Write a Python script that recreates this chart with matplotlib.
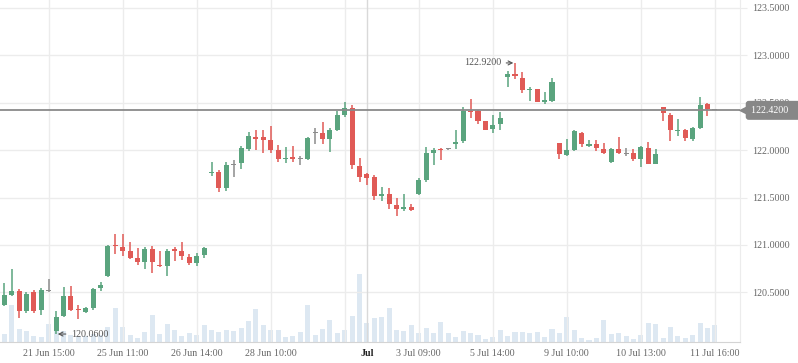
#!/usr/bin/env python3
"""
Candlestick chart with volume bars, 21 Jun - 11 Jul.
"""

import numpy as np
import matplotlib
matplotlib.use("Agg")
import matplotlib.pyplot as plt
import matplotlib.transforms as mtransforms

opens = [120.37, 120.47, 120.51, 120.30, 120.50, 120.31, 120.51, 120.09, 120.25, 120.46,
         120.32, 120.29, 120.33, 120.55, 120.67, 121.00, 120.98, 120.94, 120.86, 120.82,
         120.96, 120.79, 120.78, 120.95, 120.94, 120.87, 120.81, 120.89, 121.76, 121.77,
         121.60, 121.84, 121.86, 122.01, 122.14, 122.14, 122.11, 122.00, 121.91, 121.93,
         121.91, 121.91, 122.18, 122.18, 122.12, 122.21, 122.37, 122.44, 121.83, 121.75,
         121.72, 121.52, 121.54, 121.42, 121.38, 121.40, 121.54, 121.68, 121.97, 122.01,
         122.01, 122.07, 122.10, 122.41, 122.41, 122.31, 122.22, 122.28, 122.77, 122.80,
         122.76, 122.63, 122.65, 122.51, 122.52, 122.08, 121.95, 122.00, 122.18, 122.04,
         122.07, 122.01, 121.88, 122.01, 121.96, 121.97, 121.91, 122.02, 121.85, 122.46,
         122.37, 122.20, 122.21, 122.12, 122.23, 122.49, 122.42]
highs = [120.60, 120.75, 120.54, 120.50, 120.52, 120.55, 120.64, 120.30, 120.56, 120.57,
         120.37, 120.34, 120.55, 120.61, 121.00, 121.12, 121.12, 121.03, 120.97, 120.98,
         120.99, 120.94, 120.96, 120.98, 121.03, 120.90, 120.92, 120.98, 121.88, 121.79,
         121.88, 121.90, 122.04, 122.19, 122.21, 122.21, 122.26, 122.05, 122.03, 122.04,
         121.94, 122.14, 122.23, 122.30, 122.23, 122.41, 122.51, 122.48, 121.92, 121.76,
         121.74, 121.61, 121.60, 121.50, 121.54, 121.43, 121.71, 122.03, 122.02, 122.02,
         122.01, 122.21, 122.46, 122.54, 122.42, 122.31, 122.37, 122.40, 122.83, 122.92,
         122.82, 122.67, 122.65, 122.61, 122.76, 122.08, 122.12, 122.21, 122.19, 122.11,
         122.11, 122.08, 122.02, 122.14, 122.02, 122.01, 122.04, 122.09, 122.01, 122.46,
         122.39, 122.33, 122.22, 122.24, 122.56, 122.50, 122.42]
lows = [120.36, 120.46, 120.23, 120.28, 120.28, 120.26, 120.50, 120.06, 120.24, 120.30,
        120.22, 120.28, 120.31, 120.51, 120.66, 120.90, 120.88, 120.85, 120.79, 120.75,
        120.70, 120.77, 120.67, 120.83, 120.84, 120.79, 120.78, 120.86, 121.73, 121.56,
        121.57, 121.72, 121.80, 121.99, 122.00, 121.97, 121.97, 121.87, 121.86, 121.87,
        121.84, 121.90, 122.07, 122.07, 121.98, 122.20, 122.35, 121.80, 121.66, 121.63,
        121.47, 121.46, 121.38, 121.30, 121.36, 121.36, 121.53, 121.66, 121.84, 121.90,
        122.00, 122.01, 122.08, 122.34, 122.28, 122.21, 122.18, 122.21, 122.67, 122.75,
        122.60, 122.52, 122.51, 122.49, 122.51, 121.91, 121.94, 121.99, 122.03, 122.03,
        121.99, 121.96, 121.86, 121.96, 121.94, 121.89, 121.82, 121.85, 121.85, 122.31,
        122.10, 122.15, 122.10, 122.10, 122.22, 122.36, 122.42]
closes = [120.47, 120.51, 120.30, 120.48, 120.30, 120.52, 120.51, 120.24, 120.46, 120.31,
          120.31, 120.33, 120.53, 120.58, 120.99, 120.99, 120.94, 120.86, 120.82, 120.96,
          120.82, 120.78, 120.94, 120.94, 120.88, 120.81, 120.88, 120.97, 121.77, 121.60,
          121.84, 121.84, 122.02, 122.15, 122.12, 122.11, 122.00, 121.91, 121.92, 121.91,
          121.91, 122.13, 122.18, 122.12, 122.21, 122.37, 122.44, 121.84, 121.72, 121.71,
          121.52, 121.54, 121.43, 121.38, 121.40, 121.37, 121.69, 121.97, 122.00, 122.00,
          122.01, 122.09, 122.41, 122.40, 122.31, 122.21, 122.27, 122.34, 122.80, 122.78,
          122.63, 122.65, 122.51, 122.53, 122.72, 121.96, 122.00, 122.20, 122.06, 122.07,
          122.02, 121.97, 122.01, 121.97, 121.96, 121.91, 122.03, 121.85, 121.96, 122.39,
          122.21, 122.21, 122.13, 122.23, 122.48, 122.43, 122.42]
volumes = [8.3, 37.3, 13.3, 11.3, 6.3, 5.3, 18.3, 14.3, 11.0, 7.3,
           6.0, 6.0, 8.0, 7.3, 15.3, 34.3, 15.3, 7.3, 4.3, 10.3,
           27.3, 8.3, 18.3, 12.3, 6.3, 9.3, 7.3, 17.3, 12.3, 10.3,
           12.3, 11.3, 14.3, 21.3, 33.3, 17.3, 12.3, 12.3, 5.3, 6.3,
           10.3, 37.3, 7.3, 13.3, 22.3, 9.3, 12.3, 26.3, 68.3, 19.3,
           24.3, 25.3, 34.3, 12.3, 11.3, 17.3, 9.3, 14.3, 9.3, 20.3,
           9.3, 5.3, 11.3, 9.3, 7.3, 3.3, 5.3, 12.3, 6.3, 10.3,
           10.3, 9.3, 10.3, 5.3, 13.3, 9.3, 25.3, 12.3, 4.3, 2.3,
           4.3, 22.3, 8.3, 9.3, 6.3, 3.3, 7.3, 19.3, 18.3, 4.3,
           15.3, 6.3, 4.3, 7.3, 19.3, 14.3, 17.3]

tick_pos = [6, 16, 26, 36, 49, 56, 66, 76, 86, 96]
tick_labels = ["21 Jun 15:00", "25 Jun 11:00", "26 Jun 14:00", "28 Jun 10:00", "Jul",
               "3 Jul 09:00", "5 Jul 14:00", "9 Jul 10:00", "10 Jul 13:00", "11 Jul 16:00"]
extra_grid = [46]
price_ticks = [120.5, 121.0, 121.5, 122.0, 122.5, 123.0, 123.5]
last_price = 122.42
max_idx, max_price = 69, 122.92
min_idx, min_price = 7, 120.06

UP = "#5aa47e"
DOWN = "#e05a56"
FLAT = "#8c8c8c"
GRID = "#ececec"
TEXT = "#666666"
TAG = "#878787"
SERIF = ["Liberation Serif", "DejaVu Serif"]
FS = 7.2


def main():
    W, H = 798, 363
    fig = plt.figure(figsize=(W / 100, H / 100), dpi=100)
    ax = fig.add_axes([0, 21 / H, 740 / W, 1 - 21 / H])
    axv = ax.twinx()
    ax.set_zorder(2)
    ax.patch.set_visible(False)

    x = np.arange(len(opens))
    o = np.array(opens)
    c = np.array(closes)
    h = np.array(highs)
    l = np.array(lows)

    # volume bars at the bottom
    axv.bar(x, volumes, width=0.68, color="#dde8f2", zorder=1)
    axv.set_ylim(0, max(volumes) * 5.0)
    axv.set_yticks([])
    for s in axv.spines.values():
        s.set_visible(False)

    colors = np.where(c > o, UP, np.where(c < o, DOWN, FLAT))
    ax.vlines(x, l, h, colors=colors, linewidth=1.1, zorder=3)
    body = np.maximum(np.abs(c - o), 0.012)
    ax.bar(x, body, bottom=np.minimum(o, c), width=0.68, color=colors,
           linewidth=0, zorder=4)

    ax.set_xlim(-0.58, 99.4)
    ax.set_ylim(119.976, 123.584)

    # grid
    for p in price_ticks:
        ax.axhline(p, color=GRID, linewidth=1, zorder=0)
    for t in tick_pos + extra_grid:
        col = "#d9d9d9" if t == 49 else GRID
        ax.axvline(t, color=col, linewidth=1, zorder=0)

    ax.axhline(last_price, color="#8a8a8a", linewidth=1.3, zorder=5)

    for s in ["top", "left"]:
        ax.spines[s].set_visible(False)
    ax.spines["right"].set_color(GRID)
    ax.spines["bottom"].set_color("#d4d4d4")

    ax.yaxis.tick_right()
    ax.set_yticks(price_ticks)
    ax.set_yticklabels([f"{p:.4f}" for p in price_ticks])
    ax.tick_params(axis="y", length=5, color=GRID, pad=4, labelsize=FS,
                   labelcolor=TEXT)
    ax.set_xticks(tick_pos)
    ax.set_xticklabels(tick_labels)
    ax.tick_params(axis="x", length=0, pad=5, labelsize=FS, labelcolor=TEXT)
    for lab in ax.get_xticklabels() + ax.get_yticklabels():
        lab.set_family(SERIF)
    ax.get_xticklabels()[4].set_color("#222222")
    ax.get_xticklabels()[4].set_fontweight("bold")

    # max / min annotations
    arrow = dict(arrowstyle="->", color="#555555", lw=0.8, shrinkA=1.5, shrinkB=1.2)
    ax.annotate(f"{max_price:.4f}", xy=(max_idx, max_price), xytext=(-9.8, 0),
                textcoords="offset points", ha="right", va="center", fontsize=FS,
                color="#555555", family=SERIF, zorder=6, arrowprops=arrow)
    ax.annotate(f"{min_price:.4f}", xy=(min_idx, min_price), xytext=(10.5, 0),
                textcoords="offset points", ha="left", va="center", fontsize=FS,
                color="#555555", family=SERIF, zorder=6, arrowprops=arrow)

    # current price tag
    trans = mtransforms.blended_transform_factory(ax.transAxes, ax.transData)
    ax.plot([1.0045], [last_price], marker="<", ms=7.5, color=TAG, mec="none",
            transform=trans, clip_on=False, zorder=7)
    ax.text(1.0145, last_price, f"{last_price:.4f}   ", transform=trans, ha="left",
            va="center", fontsize=FS, color="white", family=SERIF, zorder=8,
            clip_on=False,
            bbox=dict(boxstyle="round,pad=0.5,rounding_size=0.3", fc=TAG, ec="none"))

    fig.savefig("out.png", dpi=100)
    plt.close(fig)


if __name__ == "__main__":
    main()
